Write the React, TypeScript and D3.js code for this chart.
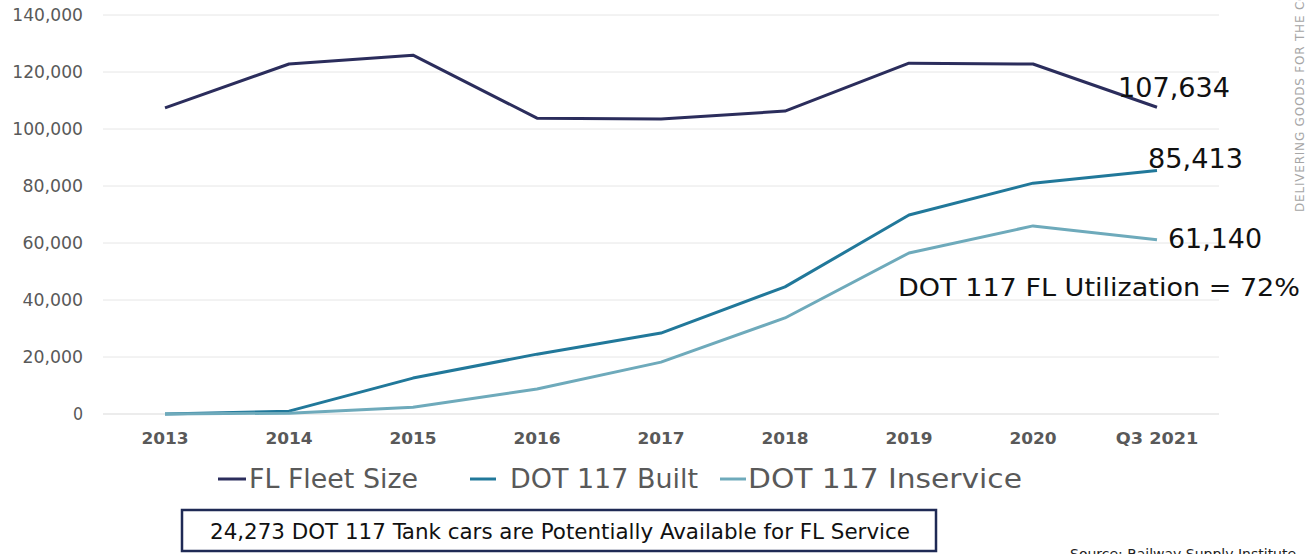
import React from "react";
import * as d3 from "d3";

const categories = ["2013", "2014", "2015", "2016", "2017", "2018", "2019", "2020", "Q3 2021"];
const fleetSize = [107400, 122800, 125900, 103800, 103500, 106300, 123100, 122800, 107634];
const dot117Built = [0, 1000, 12600, 21000, 28400, 44600, 69800, 81000, 85413];
const dot117Inservice = [0, 300, 2400, 8800, 18200, 33700, 56500, 66000, 61140];
const yTicks = [0, 20000, 40000, 60000, 80000, 100000, 120000, 140000];

const seriesNames = ["FL Fleet Size", "DOT 117 Built", "DOT 117 Inservice"];
const colors = ["#2b2d5c", "#21789a", "#6eaabb"];

const W = 1316;
const H = 554;

export default function App() {
  const x = d3.scaleBand<string>().domain(categories).range([103, 1219]);
  const y = d3.scaleLinear().domain([0, 140000]).range([414, 15]);
  const cx = (c: string) => (x(c) as number) + x.bandwidth() / 2;
  const line = d3
    .line<number>()
    .x((_, i) => cx(categories[i]))
    .y((d) => y(d));
  const allSeries = [fleetSize, dot117Built, dot117Inservice];
  const fmt = d3.format(",");
  const verdana = "'DejaVu Sans', Verdana, sans-serif";
  const narrow = "'DejaVu Sans Condensed', 'Liberation Sans Narrow', 'Noto Sans', sans-serif";

  return (
    <svg width={W} height={H} style={{ position: "absolute", left: 0, top: 0, background: "#fff" }}>
      {yTicks.map((t) => {
        const s = fmt(t);
        return (
          <g key={t}>
            <line x1={103} x2={1219} y1={y(t)} y2={y(t)} stroke={t === 0 ? "#d9d9d9" : "#e6e6e6"} strokeWidth={1} />
            <text x={83} y={y(t) + 6} textAnchor="end" fontFamily={verdana} fontSize={17} fill="#595959"
              textLength={s.length * 10.1} lengthAdjust="spacingAndGlyphs">
              {s}
            </text>
          </g>
        );
      })}
      {categories.map((c) => (
        <text key={c} x={cx(c)} y={444} textAnchor="middle" fontFamily={verdana} fontWeight="bold" fontSize={16} fill="#595959"
          textLength={c.length * 11.8} lengthAdjust="spacingAndGlyphs">
          {c}
        </text>
      ))}
      {allSeries.map((s, i) => (
        <path key={i} d={line(s) || ""} fill="none" stroke={colors[i]} strokeWidth={3} strokeLinejoin="round" />
      ))}
      {/* annotations */}
      <text x={1118} y={97} fontFamily={verdana} fontSize={26} fill="#111" textLength={112} lengthAdjust="spacingAndGlyphs">{fmt(fleetSize[8])}</text>
      <text x={1148} y={168} fontFamily={verdana} fontSize={26} fill="#111" textLength={95} lengthAdjust="spacingAndGlyphs">{fmt(dot117Built[8])}</text>
      <text x={1168} y={248} fontFamily={verdana} fontSize={26} fill="#111" textLength={94} lengthAdjust="spacingAndGlyphs">{fmt(dot117Inservice[8])}</text>
      <text x={898} y={296} fontFamily={verdana} fontSize={24} fill="#111" textLength={402} lengthAdjust="spacingAndGlyphs">
        DOT 117 FL Utilization = 72%
      </text>
      {/* legend */}
      <line x1={218} x2={246} y1={479} y2={479} stroke={colors[0]} strokeWidth={3} />
      <text x={249} y={488} fontFamily={narrow} fontSize={26} fill="#595959" textLength={169} lengthAdjust="spacingAndGlyphs">{seriesNames[0]}</text>
      <line x1={470} x2={496} y1={479} y2={479} stroke={colors[1]} strokeWidth={3} />
      <text x={510} y={488} fontFamily={narrow} fontSize={26} fill="#595959" textLength={188} lengthAdjust="spacingAndGlyphs">{seriesNames[1]}</text>
      <line x1={720} x2={746} y1={479} y2={479} stroke={colors[2]} strokeWidth={3} />
      <text x={748} y={488} fontFamily={narrow} fontSize={26} fill="#595959" textLength={274} lengthAdjust="spacingAndGlyphs">{seriesNames[2]}</text>
      {/* box */}
      <rect x={182} y={510} width={754} height={41} fill="#fff" stroke="#1f2a55" strokeWidth={2.5} />
      <text x={210} y={539} fontFamily={narrow} fontSize={21} fill="#111" textLength={700} lengthAdjust="spacingAndGlyphs">
        24,273 DOT 117 Tank cars are Potentially Available for FL Service
      </text>
      {/* source */}
      <text x={1070} y={559} fontFamily={verdana} fontSize={14} fill="#222">Source: Railway Supply Institute</text>
      {/* watermark */}
      <text transform="translate(1304,212) rotate(-90)" fontFamily={verdana} fontSize={12} fill="#a6a6a6" letterSpacing={0.8}>
        DELIVERING GOODS FOR THE COUNTRY
      </text>
    </svg>
  );
}
